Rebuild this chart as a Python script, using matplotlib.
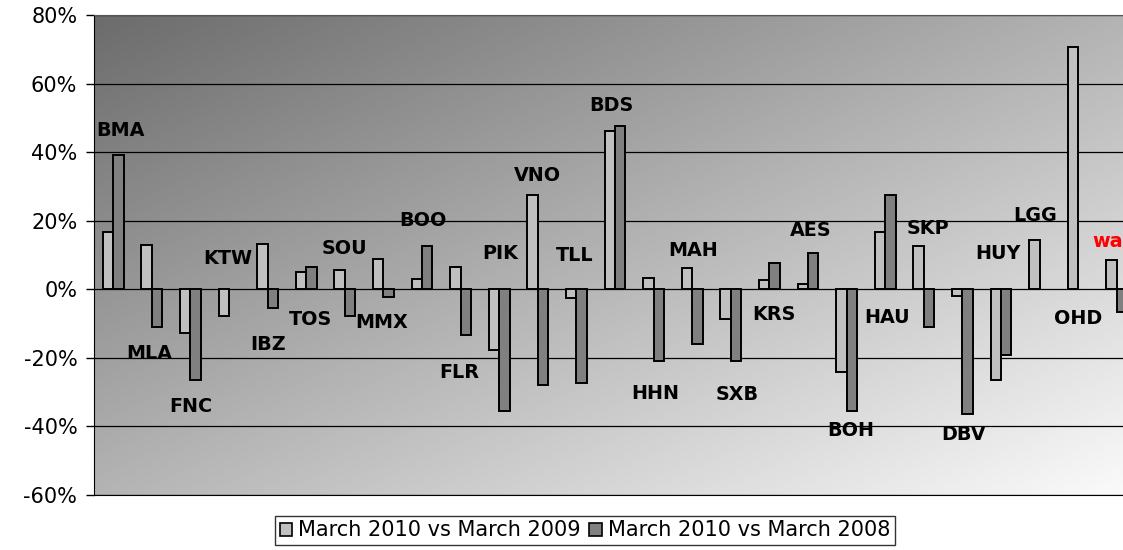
import matplotlib.pyplot as plt
import numpy as np
from matplotlib.patches import Patch
from matplotlib.colors import LinearSegmentedColormap

# airports and the two year-on-year changes (percent)
codes = ['BMA', 'MLA', 'FNC', 'KTW', 'IBZ', 'TOS', 'SOU', 'MMX', 'BOO', 'FLR',
         'PIK', 'VNO', 'TLL', 'BDS', 'HHN', 'MAH', 'SXB', 'KRS', 'AES', 'BOH',
         'HAU', 'SKP', 'DBV', 'HUY', 'LGG', 'OHD', 'wa']
vs_2009 = [16.7, 12.8, -12.7, -7.8, 13.3, 5.0, 5.6, 8.7, 2.9, 6.6,
           -17.6, 27.5, -2.6, 46.2, 3.3, 6.1, -8.8, 2.8, 1.6, -24.1,
           16.6, 12.6, -2.1, -26.4, 14.3, 70.8, 8.4]
vs_2008 = [39.1, -11.0, -26.5, np.nan, -5.5, 6.6, -7.7, -2.2, 12.6, -13.2,
           -35.6, -28.0, -27.4, 47.7, -21.0, -15.9, -20.9, 7.7, 10.5, -35.6,
           27.6, -10.9, -36.3, -19.1, np.nan, np.nan, -6.5]
series_names = ['March 2010 vs March 2009', 'March 2010 vs March 2008']
yticks = [80, 60, 40, 20, 0, -20, -40, -60]

# where each code label sits (category offset, value in %)
label_pos = [(0.18, 46.2), (0.92, -18.8), (2.0, -34.2), (2.96, 9.1), (4.02, -16.2),
             (5.11, -8.8), (6.0, 11.9), (6.95, -9.6), (8.02, 20.0), (8.97, -24.4),
             (10.02, 10.4), (10.99, 33.2), (11.96, 9.75), (12.91, 53.6), (14.04, -30.5),
             (15.02, 11.4), (16.16, -30.8), (17.11, -7.3), (18.06, 17.2), (19.11, -41.2),
             (20.06, -8.3), (21.11, 17.8), (22.02, -42.5), (22.91, 10.4), (23.88, 21.6),
             (24.99, -8.4), (25.36, 13.8)]

light = '#c0c0c0'
dark = '#808080'

fig = plt.figure(figsize=(11.23, 5.5), dpi=100)
ax = fig.add_axes([94 / 1123, 1 - 495 / 550, 1042 / 1123, 480 / 550])

# diagonal grey gradient: dark top-left, nearly white bottom-right
n = 300
u = np.linspace(0, 1, n)
U, V = np.meshgrid(u, u)
grad = (U + V) / 2
cmap = LinearSegmentedColormap.from_list('bg', ['#6c6c6c', '#b4b4b4', '#fbfbfb'])
ax.imshow(grad, cmap=cmap, extent=[0, 1, 0, 1], transform=ax.transAxes,
          aspect='auto', zorder=0, origin='upper')

x = np.arange(len(codes))
w = 0.27
ax.bar(x - w / 2, vs_2009, w, color=light, edgecolor='black', linewidth=1.4, zorder=3)
ax.bar(x + w / 2, vs_2008, w, color=dark, edgecolor='black', linewidth=1.4, zorder=3)

for code, (px, py) in zip(codes, label_pos):
    if code == 'wa':
        ax.text(px, py, code, color='red', fontsize=13.8, fontweight='bold',
                ha='left', va='center', zorder=4)
    else:
        ax.text(px, py, code, color='black', fontsize=13.8, fontweight='bold',
                ha='center', va='center', zorder=4)

ax.set_xlim(-0.5, len(codes) - 0.5)
ax.set_ylim(-60, 80)
ax.set_yticks(yticks)
ax.set_yticklabels([f'{t}%' for t in yticks], fontsize=15)
ax.set_xticks([])
ax.tick_params(axis='y', direction='out', length=6, width=1, pad=6)
ax.grid(axis='y', color='black', linewidth=0.9, zorder=1)
ax.set_axisbelow(True)
ax.spines['right'].set_visible(False)
ax.spines['top'].set_color('#555555')
ax.spines['left'].set_color('black')
ax.spines['bottom'].set_color('black')

handles = [Patch(facecolor=light, edgecolor='black', linewidth=1.2),
           Patch(facecolor=dark, edgecolor='black', linewidth=1.2)]
leg = fig.legend(handles, series_names, loc='center', bbox_to_anchor=(0.521, 0.0355),
                 ncol=2, fontsize=15, frameon=True, fancybox=False, borderpad=0.2,
                 handlelength=0.6, handleheight=0.6, handletextpad=0.3,
                 columnspacing=0.4, borderaxespad=0)
leg.get_frame().set_edgecolor('black')
leg.get_frame().set_linewidth(1.0)

fig.savefig('out.png', dpi=100)
